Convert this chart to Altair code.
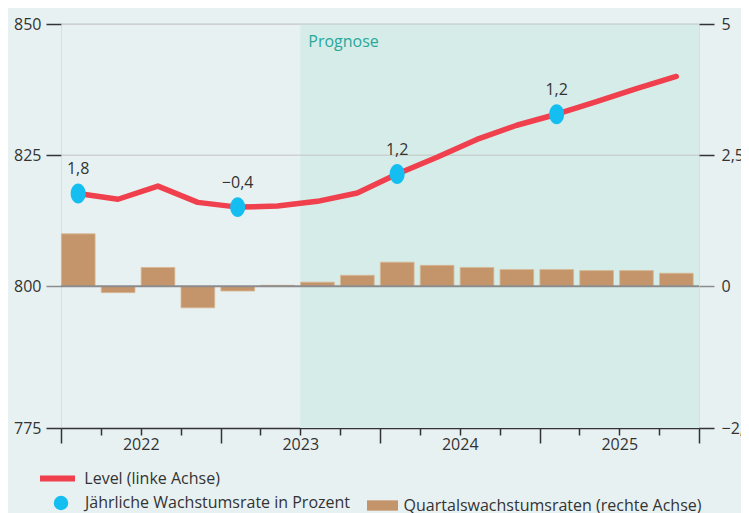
import altair as alt
import pandas as pd
import json

# ---------------- data ----------------
quarters = ["2022 Q1", "2022 Q2", "2022 Q3", "2022 Q4",
            "2023 Q1", "2023 Q2", "2023 Q3", "2023 Q4",
            "2024 Q1", "2024 Q2", "2024 Q3", "2024 Q4",
            "2025 Q1", "2025 Q2", "2025 Q3", "2025 Q4"]
level = [817.7, 816.6, 819.1, 816.0, 815.1, 815.3, 816.2, 817.8,
         821.4, 824.6, 828.0, 830.7, 832.8, 835.2, 837.7, 840.0]
qoq = [1.0, -0.12, 0.36, -0.41, -0.09, 0.02, 0.08, 0.21,
       0.46, 0.40, 0.36, 0.32, 0.32, 0.30, 0.30, 0.25]
annual_quarters = ["2022 Q1", "2023 Q1", "2024 Q1", "2025 Q1"]
annual_rate = [1.8, -0.4, 1.2, 1.2]
year_labels = ["2022", "2023", "2024", "2025"]
forecast_start = "2023 Q3"
forecast_label = "Prognose"

left_ticks = [773, 800, 825, 850]
left_tick_labels = ["775", "800", "825", "850"]
left_grid = [825, 850]
right_ticks = [-2.7, 0, 2.5, 5]
right_tick_labels = ["\u22122,5", "0", "2,5", "5"]

name_line = "Level (linke Achse)"
name_point = "J\u00e4hrliche Wachstumsrate in Prozent"
name_bar = "Quartalswachstumsraten (rechte Achse)"

# ---------------- styling ----------------
FONT = "Open Sans"
BG = "#e8f1f2"
FC_BG = "#d6ece8"
RED = "#f0404e"
CYAN = "#14bef0"
BROWN = "#c4956a"
TXT = "#333333"

df = pd.DataFrame({"quarter": quarters, "level": level, "qoq": qoq})
df["i"] = list(range(len(quarters)))
df["s_line"] = name_line
df["s_bar"] = name_bar

ann = pd.DataFrame({"quarter": annual_quarters, "rate": annual_rate})
ann = ann.merge(df[["quarter", "level", "i"]], on="quarter")
ann["txt"] = [f"{v:.1f}".replace(".", ",").replace("-", "\u2212") for v in ann["rate"]]
ann["s_pt"] = name_point

fc = pd.DataFrame({"start": [quarters.index(forecast_start)],
                   "end": [len(quarters)],
                   "label": [forecast_label]})

grid_df = pd.DataFrame({"g": left_grid})

def ternary(values, labels):
    expr = "''"
    for v, l in zip(reversed(values), reversed(labels)):
        expr = f"datum.value == {v} ? {json.dumps(l)} : ({expr})"
    return expr

year_expr = (f"datum.value % 4 === 2 ? {json.dumps(year_labels)}[(datum.value - 2) / 4] : ''")

xscale = alt.Scale(domain=[0, len(quarters)], nice=False, zero=False)
x_axis = alt.Axis(values=list(range(len(quarters) + 1)), labelExpr=year_expr, title=None,
                  grid=False, domain=True, domainColor=TXT, domainWidth=1.5,
                  tickColor=TXT, tickWidth=1.5,
                  tickSize={"condition": {"test": "datum.value % 4 === 0", "value": 15}, "value": 7},
                  labelFont=FONT, labelFontSize=16, labelColor=TXT, labelPadding=1,
                  labelAngle=0)

yl_scale = alt.Scale(domain=[left_ticks[0], left_ticks[-1]], nice=False, zero=False)
yl_axis = alt.Axis(orient="left", values=left_ticks, labelExpr=ternary(left_ticks, left_tick_labels),
                   title=None, domain=False, tickSize=15, tickWidth=1.5, grid=False,
                   tickColor={"condition": {"test": "datum.value == 800", "value": "#8c8c8c"}, "value": TXT},
                   labelFont=FONT, labelFontSize=16, labelColor=TXT, labelPadding=5)

yr_scale = alt.Scale(domain=[right_ticks[0], right_ticks[-1]], nice=False, zero=False)
yr_axis = alt.Axis(orient="right", values=right_ticks, labelExpr=ternary(right_ticks, right_tick_labels),
                   title=None, domain=False, tickSize=15, tickWidth=1.5, grid=False,
                   tickColor={"condition": {"test": "datum.value == 0", "value": "#8c8c8c"}, "value": TXT},
                   labelFont=FONT, labelFontSize=16, labelColor=TXT, labelPadding=7)

def xq(field):
    return alt.X(field, type="quantitative", scale=xscale, axis=x_axis)

leg_common = dict(orient="none", title=None, padding=0, labelFont=FONT, labelFontSize=16,
                  labelColor=TXT, labelLimit=500)

bg = alt.Chart(fc).mark_rect(color=FC_BG, strokeWidth=0).encode(x=xq("start"), x2="end:Q")

prog_text = alt.Chart(fc).mark_text(align="left", baseline="middle", dx=8, font=FONT,
                                    fontSize=16, color="#2aa89a").encode(
    x=xq("start"), y=alt.value(18), text="label:N")

bars = alt.Chart(df).transform_calculate(x0="datum.i + 0.01", x1="datum.i + 0.855").mark_bar(
    stroke="#d8b894", strokeWidth=0.8).encode(
    x=xq("x0"), x2="x1:Q",
    y=alt.Y("qoq:Q", scale=yr_scale, axis=yr_axis, stack=None),
    y2=alt.datum(0),
    color=alt.Color("s_bar:N", scale=alt.Scale(domain=[name_bar], range=[BROWN]),
                    legend=alt.Legend(symbolType="M-1.5,-0.5H1.5V0.5H-1.5Z", symbolSize=427,
                                      symbolStrokeWidth=0, legendX=311, legendY=471,
                                      labelOffset=10.6, **leg_common)))

zero_rule = alt.Chart(pd.DataFrame({"z": [0]})).mark_rule(color="#8c8c8c", strokeWidth=2).encode(
    y=alt.Y("z:Q", scale=yr_scale, axis=yr_axis))

right = alt.layer(bars, zero_rule)

grid_rules = alt.Chart(grid_df).mark_rule(color="#c3c3c3", strokeWidth=1).encode(
    y=alt.Y("g:Q", scale=yl_scale, axis=yl_axis))

line = alt.Chart(df).transform_calculate(xc="datum.i + 0.43").mark_line(
    strokeWidth=5.5, strokeCap="round", strokeJoin="round").encode(
    x=xq("xc"),
    y=alt.Y("level:Q", scale=yl_scale, axis=yl_axis),
    stroke=alt.Stroke("s_line:N", scale=alt.Scale(domain=[name_line], range=[RED]),
                      legend=alt.Legend(symbolType="stroke", symbolStrokeWidth=6, symbolSize=1225,
                                        legendX=-24, legendY=434, labelOffset=6.3, **leg_common)))

ellipse = "M0,-1.33A1,1.33,0,1,1,0,1.33A1,1.33,0,1,1,0,-1.33Z"
points = alt.Chart(ann).transform_calculate(xc="datum.i + 0.43").mark_point(
    filled=True, shape=ellipse, size=225, opacity=1).encode(
    x=xq("xc"),
    y=alt.Y("level:Q", scale=yl_scale, axis=yl_axis),
    fill=alt.Fill("s_pt:N", scale=alt.Scale(domain=[name_point], range=[CYAN]),
                  legend=alt.Legend(symbolType="circle", symbolSize=210, symbolStrokeWidth=0,
                                    legendX=-8, legendY=471, labelOffset=16, **leg_common)))

labels = alt.Chart(ann).transform_calculate(xc="datum.i + 0.43").mark_text(
    dy=-24, font=FONT, fontSize=16, color=TXT).encode(
    x=xq("xc"),
    y=alt.Y("level:Q", scale=yl_scale, axis=yl_axis),
    text="txt:N")

left = alt.layer(grid_rules, line, points, labels)

chart = alt.layer(bg, prog_text, right, left).resolve_scale(y="independent").properties(
    width=638, height=404,
    padding={"left": 53, "top": 16, "right": 42, "bottom": 85},
    autosize=alt.AutoSizeParams(type="none"),
    background=BG,
).configure_view(stroke="transparent", strokeWidth=0).configure_axis(
    domainColor="transparent", gridColor="transparent").configure_axisY(
    domain=False, grid=False).configure(font=FONT)

chart.save("out.html", embed_options={"renderer": "svg", "actions": False})
